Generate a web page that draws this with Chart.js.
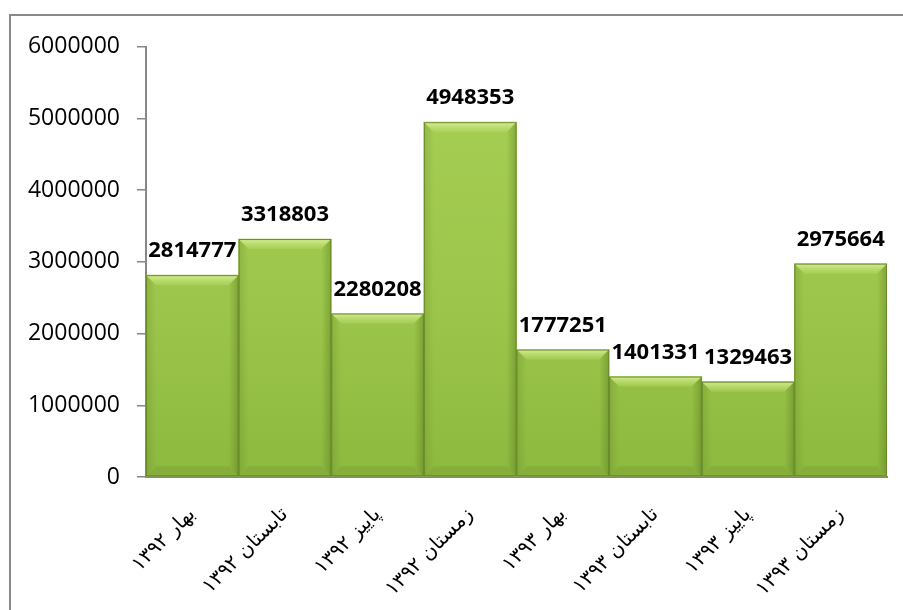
<!DOCTYPE html>
<html>
<head>
<meta charset="utf-8">
<script src="https://cdn.jsdelivr.net/npm/chart.js@4.4.1/dist/chart.umd.min.js"></script>
<style>
  html, body { margin: 0; padding: 0; background: #fff; }
  #box {
    position: absolute; left: 9px; top: 14px;
    border-left: 2px solid #8a8a8a; border-top: 2px solid #8a8a8a;
    width: 892px; height: 594px;
  }
  canvas { display: block; }
</style>
</head>
<body>
<div id="box"><canvas id="c" width="892" height="594"></canvas></div>
<script>
// seasons (Persian calendar), values as printed on the bars
var seasons = ["بهار ۱۳۹۲", "تابستان ۱۳۹۲", "پاییز ۱۳۹۲", "زمستان ۱۳۹۲",
               "بهار ۱۳۹۳", "تابستان ۱۳۹۳", "پاییز ۱۳۹۳", "زمستان ۱۳۹۳"];
var totals = [2814777, 3318803, 2280208, 4948353, 1777251, 1401331, 1329463, 2975664];
var yTicks = [0, 1000000, 2000000, 3000000, 4000000, 5000000, 6000000];

var axisGray = "#878787";

/* vertical green gradient for the bar body */
function barFill(context) {
  var area = context.chart.chartArea;
  if (!area) return "#9cc74c";
  var g = context.chart.ctx.createLinearGradient(0, area.top, 0, area.bottom);
  g.addColorStop(0, "#a7d055");
  g.addColorStop(0.6, "#9cc64b");
  g.addColorStop(1, "#8db93f");
  return g;
}

/* the bevelled look of the office-style bars */
var bevel = {
  id: "bevel",
  afterDatasetDraw: function (chart) {
    var ctx = chart.ctx;
    chart.getDatasetMeta(0).data.forEach(function (bar) {
      var l = bar.x - bar.width / 2, r = bar.x + bar.width / 2;
      var t = bar.y, b = bar.base, s = 10;
      function quad(pts, fill) {
        ctx.beginPath();
        ctx.moveTo(pts[0][0], pts[0][1]);
        for (var i = 1; i < pts.length; i++) ctx.lineTo(pts[i][0], pts[i][1]);
        ctx.closePath();
        ctx.fillStyle = fill;
        ctx.fill();
      }
      ctx.save();
      var tg = ctx.createLinearGradient(0, t, 0, t + s);
      tg.addColorStop(0, "rgba(225,245,160,0.85)");
      tg.addColorStop(1, "rgba(185,222,105,0.35)");
      quad([[l, t], [r, t], [r - s, t + s], [l + s, t + s]], tg);
      var lg = ctx.createLinearGradient(l, 0, l + s, 0);
      lg.addColorStop(0, "rgba(80,110,25,0.22)");
      lg.addColorStop(1, "rgba(80,110,25,0.0)");
      quad([[l, t], [l + s, t + s], [l + s, b - s], [l, b]], lg);
      var rg = ctx.createLinearGradient(r - s, 0, r, 0);
      rg.addColorStop(0, "rgba(70,100,20,0.0)");
      rg.addColorStop(1, "rgba(70,100,20,0.35)");
      quad([[r, t], [r - s, t + s], [r - s, b - s], [r, b]], rg);
      quad([[l, b], [l + s, b - s], [r - s, b - s], [r, b]], "rgba(70,100,20,0.12)");
      ctx.strokeStyle = "#6a8a2a";
      ctx.lineWidth = 1;
      ctx.strokeRect(l + 0.5, t + 0.5, r - l - 1, b - t - 1);
      ctx.restore();
    });
  }
};

/* value labels above each bar */
var valueLabels = {
  id: "valueLabels",
  afterDatasetsDraw: function (chart) {
    var ctx = chart.ctx;
    var ds = chart.data.datasets[0];
    ctx.save();
    ctx.font = "bold 22px 'Open Sans', 'Liberation Sans', sans-serif";
    ctx.fillStyle = "#000";
    ctx.textAlign = "center";
    ctx.textBaseline = "alphabetic";
    chart.getDatasetMeta(0).data.forEach(function (bar, i) {
      ctx.fillText(String(ds.data[i]), bar.x, bar.y - 18);
    });
    ctx.restore();
  }
};

new Chart(document.getElementById("c"), {
  type: "bar",
  data: {
    labels: seasons,
    datasets: [{
      data: totals,
      backgroundColor: barFill,
      borderWidth: 0,
      barPercentage: 1,
      categoryPercentage: 1
    }]
  },
  options: {
    responsive: false,
    animation: false,
    layout: { padding: { left: 16, top: 28, right: 16, bottom: 0 } },
    plugins: { legend: { display: false }, tooltip: { enabled: false } },
    scales: {
      x: {
        grid: { display: false },
        border: { display: true, color: axisGray, width: 2 },
        ticks: {
          color: "#000",
          font: { family: "'DejaVu Sans', sans-serif", size: 20 },
          minRotation: 45, maxRotation: 45,
          padding: 18
        },
        afterFit: function (s) { s.height = 133; }
      },
      y: {
        min: 0, max: 6000000,
        afterBuildTicks: function (s) {
          s.ticks = yTicks.map(function (v) { return { value: v }; });
        },
        grid: { drawOnChartArea: false, drawTicks: true, tickLength: 9, color: axisGray, lineWidth: 1.5 },
        border: { display: true, color: axisGray, width: 2 },
        ticks: {
          color: "#000",
          font: { family: "'Open Sans', 'Liberation Sans', sans-serif", size: 23 },
          padding: 17,
          callback: function (v) { return String(v); }
        },
        afterFit: function (s) { s.width = 119; }
      }
    }
  },
  plugins: [bevel, valueLabels]
});
</script>
</body>
</html>
